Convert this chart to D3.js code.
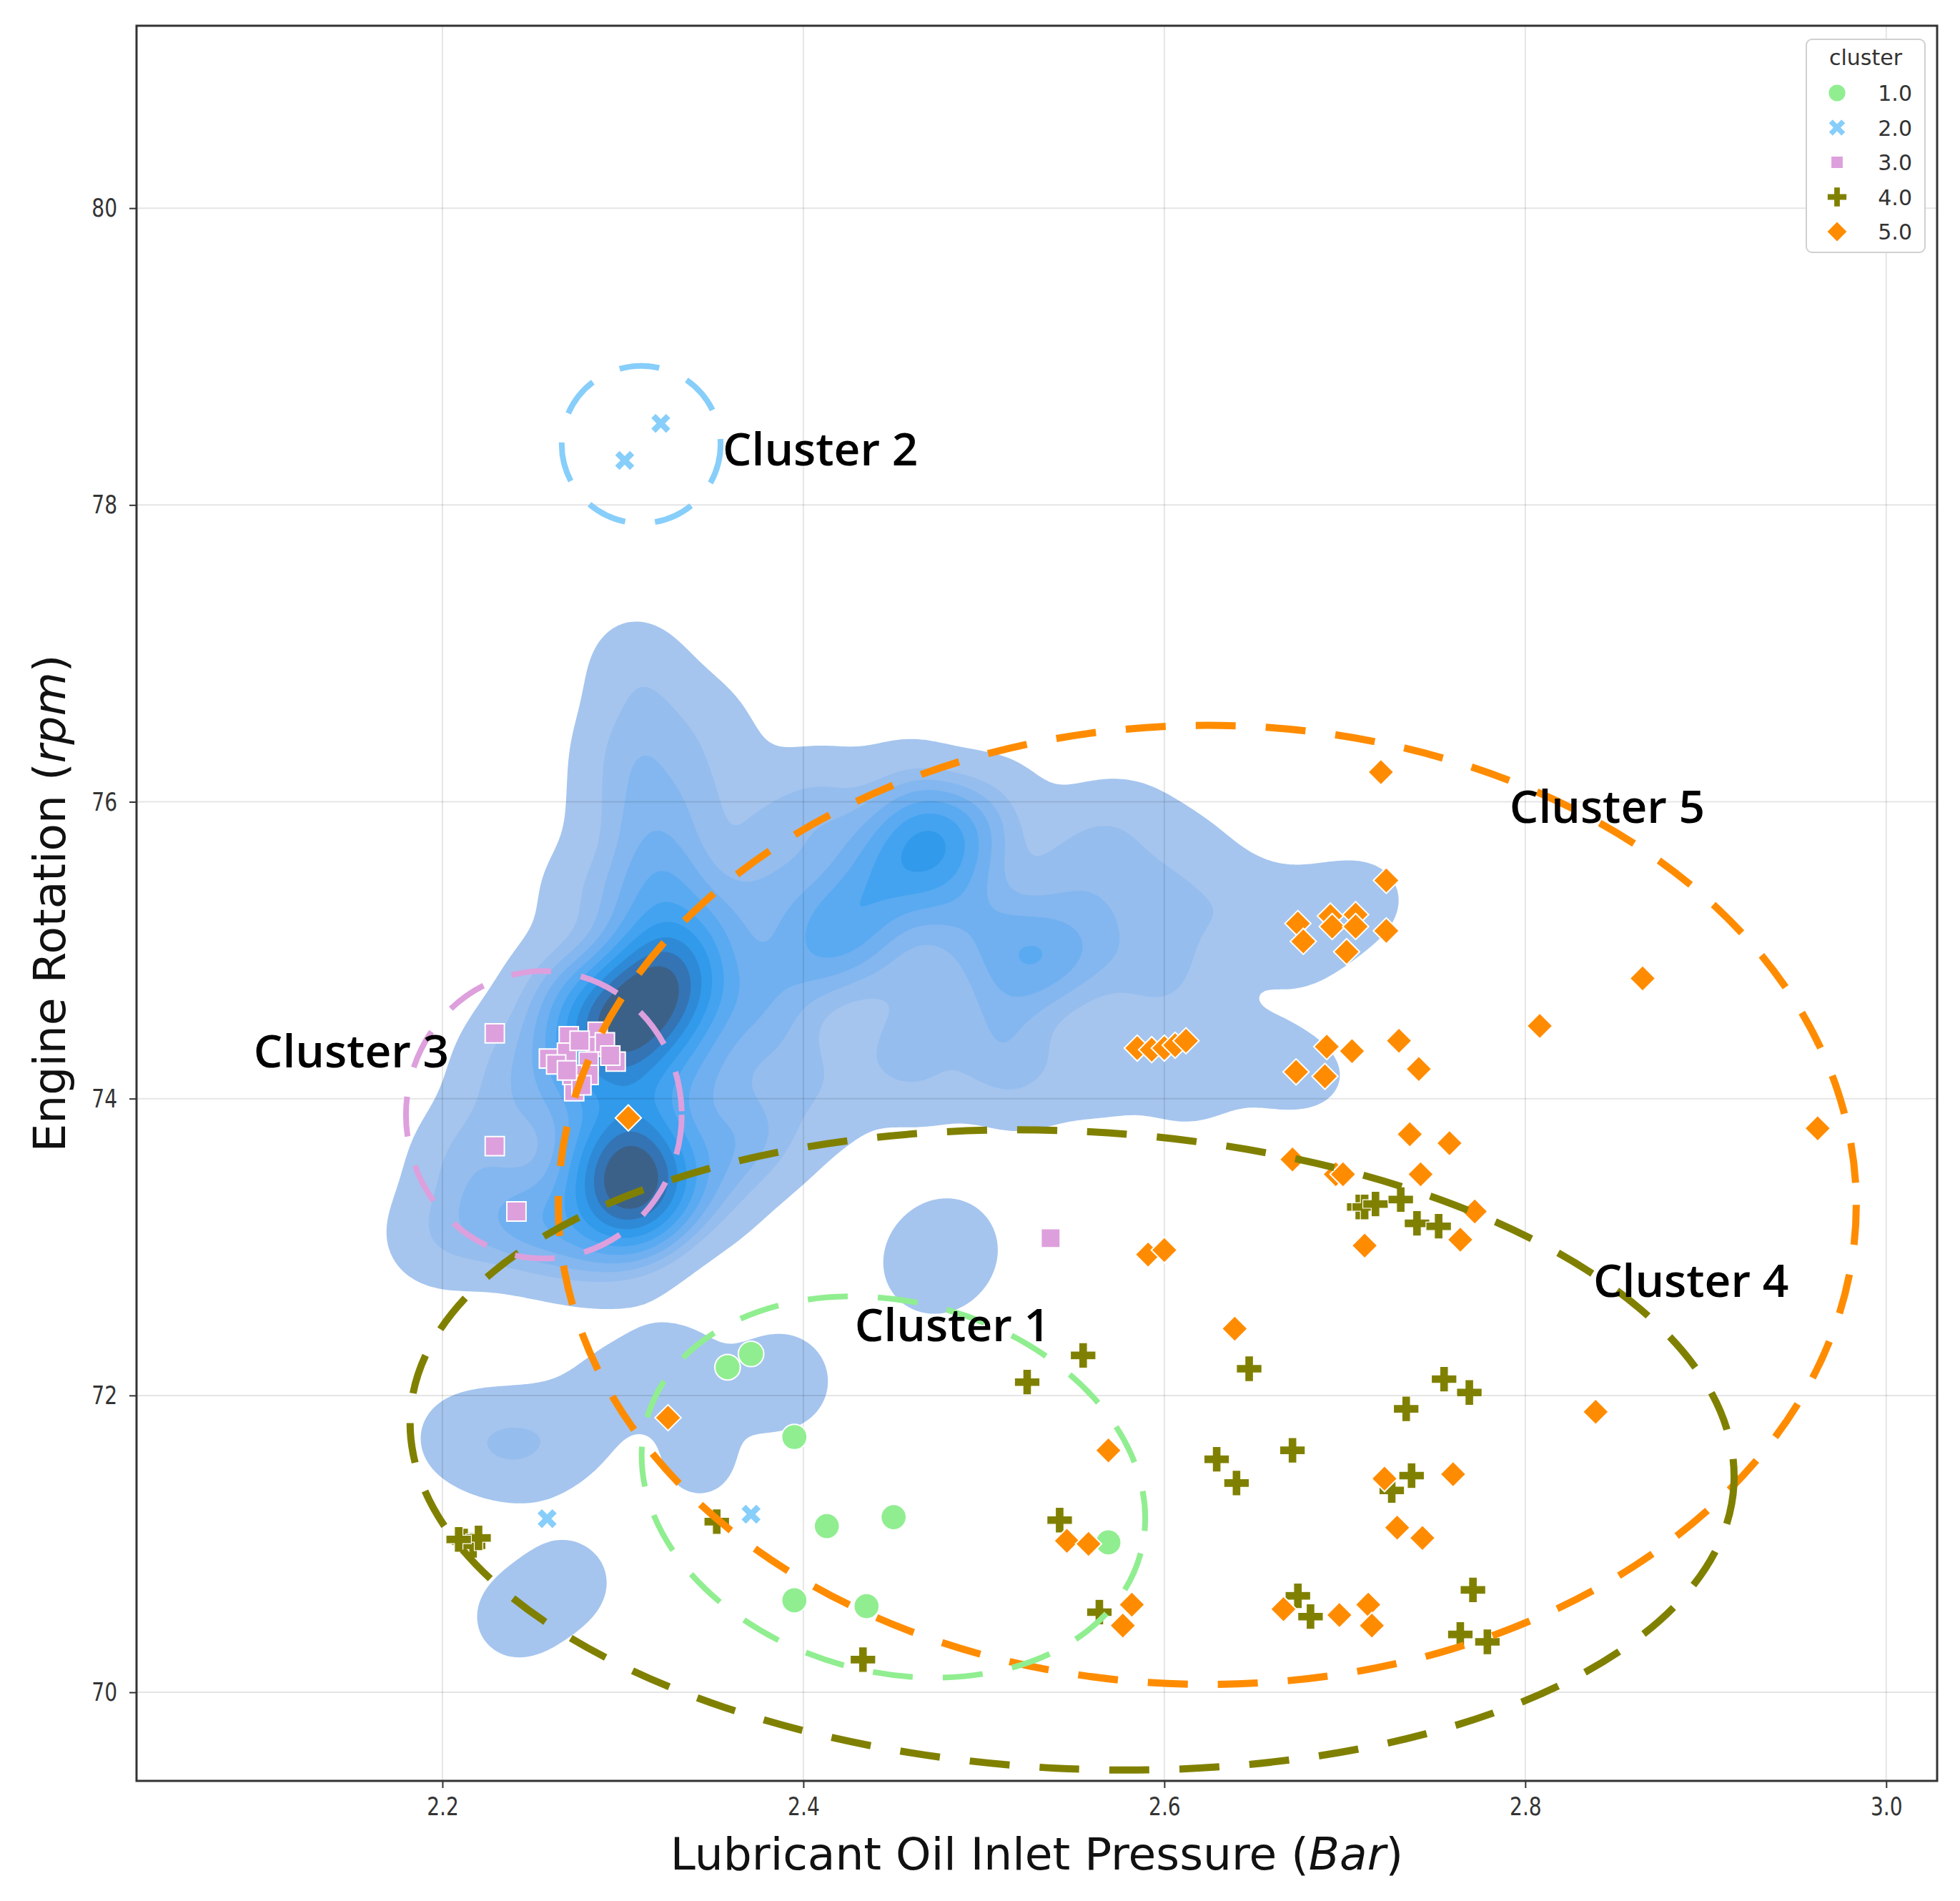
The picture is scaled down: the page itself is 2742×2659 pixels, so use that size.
<!DOCTYPE html>
<html>
<head>
<meta charset="utf-8">
<script src="https://cdn.jsdelivr.net/npm/d3@7"></script>
<style>
  body { margin: 0; background: #fff; }
  svg { display: block; }
</style>
</head>
<body>
<div id="chart"></div>
<script>
// ---- data ----
const xTicks = [2.2, 2.4, 2.6, 2.8, 3.0];
const yTicks = [70, 72, 74, 76, 78, 80];
const clusterNames = ["1.0", "2.0", "3.0", "4.0", "5.0"];

// scatter points: [oil pressure (Bar), engine rpm]
const cluster1 = [[2.358,72.19],[2.371,72.28],[2.395,71.72],[2.413,71.12],[2.450,71.18],[2.395,70.62],[2.435,70.58],[2.569,71.01]];
const cluster2 = [[2.321,78.55],[2.301,78.30],[2.258,71.17],[2.371,71.20]];
const cluster3 = [[2.229,74.44],[2.229,73.68],[2.241,73.24],[2.537,73.06],
  [2.270,74.42],[2.286,74.45],[2.285,74.35],[2.259,74.27],[2.269,74.31],[2.281,74.25],[2.296,74.25],[2.281,74.16],
  [2.273,74.05],[2.263,74.23],[2.272,74.16],[2.277,74.09],[2.290,74.38],[2.293,74.29],[2.276,74.39],[2.269,74.19]];
const cluster4 = [[2.212,71.02],[2.217,70.99],[2.220,71.04],[2.209,71.03],[2.352,71.15],[2.433,70.22],[2.524,72.09],
  [2.555,72.27],[2.542,71.16],[2.564,70.54],[2.629,71.57],[2.640,71.41],[2.647,72.18],[2.671,71.63],[2.674,70.65],
  [2.681,70.51],[2.708,73.27],[2.711,73.27],[2.717,73.29],[2.731,73.32],[2.740,73.16],[2.752,73.14],[2.755,72.11],
  [2.769,72.02],[2.734,71.91],[2.737,71.46],[2.726,71.36],[2.771,70.69],[2.764,70.39],[2.779,70.34]];
const cluster5 = [[2.720,76.20],[2.723,75.47],[2.674,75.18],[2.692,75.23],[2.706,75.24],[2.693,75.16],[2.706,75.16],
  [2.723,75.13],[2.677,75.06],[2.701,74.99],[2.585,74.34],[2.593,74.33],[2.600,74.34],[2.606,74.36],[2.612,74.39],
  [2.690,74.35],[2.704,74.32],[2.730,74.39],[2.741,74.20],[2.673,74.18],[2.689,74.15],[2.865,74.81],[2.808,74.49],
  [2.962,73.80],[2.736,73.76],[2.758,73.70],[2.671,73.59],[2.695,73.49],[2.699,73.49],[2.742,73.49],[2.772,73.24],
  [2.711,73.01],[2.764,73.05],[2.591,72.95],[2.600,72.98],[2.639,72.45],[2.303,73.87],[2.325,71.85],[2.569,71.63],
  [2.839,71.89],[2.760,71.47],[2.722,71.44],[2.729,71.11],[2.743,71.04],[2.546,71.02],[2.558,71.00],[2.582,70.59],
  [2.577,70.45],[2.666,70.56],[2.697,70.52],[2.713,70.59],[2.715,70.45]];

// samples behind the density layer: [pressure, rpm, weight]
const kdeSamples = [
  [2.2990,74.512,3.6],[2.3164,74.680,3.6],[2.3323,74.832,1.8],[2.2845,74.343,1.8],
  [2.3046,73.586,3.4],[2.3081,73.359,3.4],[2.2997,73.106,0.7],[2.2907,73.443,1.0],[2.3094,74.032,1.6],
  [2.3219,75.084,1.5],[2.3219,75.505,1.3],[2.3184,75.926,0.6],[2.3115,76.347,0.45],[2.3094,76.810,0.45],
  [2.3046,77.062,0.15],
  [2.2977,76.347,0.3],[2.2942,75.926,0.3],[2.2803,75.379,0.5],[2.3427,76.599,0.25],[2.3531,76.347,0.25],
  [2.3461,76.010,0.3],
  [2.4895,75.774,0.8],[2.4674,75.724,2.4],[2.4431,75.463,1.4],[2.4223,75.168,1.6],[2.4050,74.933,0.8],
  [2.3808,75.379,0.6],[2.3842,75.800,0.5],[2.3531,75.168,0.6],[2.3773,74.747,0.7],[2.3704,74.495,0.5],
  [2.4154,75.842,0.4],[2.4604,74.790,0.45],
  [2.5297,74.958,1.3],[2.5020,75.126,0.7],[2.5574,75.000,0.6],[2.5089,74.663,0.6],[2.4812,75.337,0.7],
  [2.5435,75.505,0.5],[2.5782,75.337,0.5],[2.5920,74.832,0.4],[2.6197,75.168,0.35],
  [2.4085,76.077,0.35],[2.4570,76.136,0.35],[2.5089,76.010,0.35],[2.5643,75.800,0.45],[2.6128,75.589,0.4],
  [2.5886,75.884,0.2],
  [2.6474,75.295,0.35],[2.6855,75.236,0.35],[2.7132,75.354,0.3],[2.6752,74.958,0.2],
  [2.3981,74.242,0.5],[2.4535,74.327,0.6],[2.5089,74.285,0.6],[2.5643,74.226,0.55],[2.6128,74.158,0.5],
  [2.6613,74.200,0.3],[2.6890,74.141,0.2],[2.6371,74.495,0.12],[2.6059,74.790,0.3],
  [2.4154,73.948,0.3],[2.4674,74.091,0.3],[2.5228,74.057,0.3],
  [2.2457,73.190,1.2],[2.2111,73.106,0.5],[2.2734,73.064,0.8],[2.1903,73.064,0.3],[2.2111,73.569,0.6],
  [2.2700,73.990,0.8],[2.2665,74.747,0.7],[2.2319,73.822,0.4],[2.2423,74.411,0.35],[2.2319,74.158,0.4],
  [2.3461,73.359,0.5],[2.3531,73.611,0.5],[2.3635,73.822,0.6],[2.3427,74.242,0.8],[2.3842,73.695,0.35],
  [2.4826,73.022,0.4],[2.4694,72.854,0.4],
  [2.2700,70.749,0.4],[2.2402,70.497,0.4],
  [2.2388,71.658,0.6],[2.2076,71.717,0.35],[2.2700,71.717,0.35],
  [2.3288,72.180,0.45],[2.3877,72.096,0.55],[2.3427,71.549,0.35],[2.2907,72.096,0.25]
];
const kdeLevels = [0.25, 0.75, 1.1, 1.5, 2.0, 2.6, 3.3, 4.1, 5.0, 6.0];
const kdeColors = ["#a5c5ee","#95bdee","#84b7ef","#70b0f0","#5aaaf1","#43a3f0","#319aea","#2e8ad6","#3474b4","#3c6189"];

// hand-drawn cluster outlines: centre pressure, centre rpm, radius (pressure), radius (rpm), tilt deg
const outlineNames = ["Cluster 5", "Cluster 4", "Cluster 1", "Cluster 3", "Cluster 2"];
const outlineCx = [2.6238, 2.5489, 2.4499, 2.2562, 2.3101];
const outlineCy = [73.284, 71.633, 71.383, 73.891, 78.407];
const outlineRx = [0.3596, 0.3672, 0.1418, 0.0764, 0.0440];
const outlineRy = [3.231, 2.147, 1.247, 0.968, 0.530];
const outlineTilt = [0, 3, 15, 0, 0];

// label anchors (left / baseline) in data units
const labelText = ["Cluster 2", "Cluster 5", "Cluster 3", "Cluster 1", "Cluster 4"];
const labelX = [2.3553, 2.7913, 2.0954, 2.4285, 2.8377];
const labelY = [78.268, 75.860, 74.209, 72.365, 72.663];

// ---- layout ----
const W = 2742, H = 2659;
const margin = {top: 36, right: 32, bottom: 168, left: 191};
const width = W - margin.left - margin.right;
const height = H - margin.top - margin.bottom;

const colors = ["#90ee90", "#87cefa", "#dda0dd", "#808000", "#ff8c00"];
const outlineColors = ["#ff8c00", "#808000", "#90ee90", "#dda0dd", "#87cefa"];
const outlineWidths = [10, 10, 8, 8, 8];

const svg = d3.select("#chart").append("svg")
    .attr("width", W)
    .attr("height", H);

const g = svg.append("g")
    .attr("transform", `translate(${margin.left},${margin.top})`);

const x = d3.scaleLinear().domain([2.0305, 3.0282]).range([0, width]);
const y = d3.scaleLinear().domain([69.403, 81.229]).range([height, 0]);

g.append("clipPath").attr("id", "plot-clip")
    .append("rect").attr("width", width).attr("height", height);

// ---- density layer ----
const cell = 4;
const nx = Math.ceil(width / cell), ny = Math.ceil(height / cell);
const bw = 52;
const grid = new Float64Array(nx * ny);
const reach = 4 * bw;
kdeSamples.forEach(d => {
    let px = x(d[0]), py = y(d[1]), w = d[2];
    let i0 = Math.max(0, Math.floor((px - reach) / cell)), i1 = Math.min(nx - 1, Math.ceil((px + reach) / cell));
    let j0 = Math.max(0, Math.floor((py - reach) / cell)), j1 = Math.min(ny - 1, Math.ceil((py + reach) / cell));
    for (let j = j0; j <= j1; j++) {
        let dy = (j + 0.5) * cell - py;
        for (let i = i0; i <= i1; i++) {
            let dx = (i + 0.5) * cell - px;
            grid[j * nx + i] += w * Math.exp(-(dx * dx + dy * dy) / (2 * bw * bw));
        }
    }
});

const bands = d3.contours().size([nx, ny]).thresholds(kdeLevels)(grid);
const contourPath = d3.geoPath(d3.geoIdentity().scale(cell));

g.append("g")
    .attr("class", "kde")
    .attr("clip-path", "url(#plot-clip)")
    .selectAll("path")
    .data(bands)
    .enter()
    .append("path")
    .attr("d", contourPath)
    .attr("fill", (d, i) => kdeColors[i]);

// ---- grid ----
g.append("g").selectAll("line").data(xTicks).enter().append("line")
    .attr("x1", d => x(d)).attr("x2", d => x(d))
    .attr("y1", 0).attr("y2", height)
    .attr("stroke", "rgba(0,0,0,0.1)").attr("stroke-width", 2);
g.append("g").selectAll("line").data(yTicks).enter().append("line")
    .attr("y1", d => y(d)).attr("y2", d => y(d))
    .attr("x1", 0).attr("x2", width)
    .attr("stroke", "rgba(0,0,0,0.1)").attr("stroke-width", 2);

// ---- axes ----
const xAxis = d3.axisBottom(x).tickValues(xTicks).tickFormat(d3.format(".1f")).tickSize(10).tickPadding(12);
const yAxis = d3.axisLeft(y).tickValues(yTicks).tickFormat(d3.format("d")).tickSize(10).tickPadding(12);

const gx = g.append("g").attr("transform", `translate(0,${height})`).call(xAxis);
const gy = g.append("g").call(yAxis);

[gx, gy].forEach(a => {
    a.select(".domain").remove();
    a.selectAll(".tick line").attr("stroke", "#333").attr("stroke-width", 2);
    a.selectAll(".tick text")
        .attr("fill", "#333")
        .style("font-family", "DejaVu Sans")
        .style("font-size", "36px");
});
gx.selectAll(".tick text").attr("transform", "scale(0.78,1)").attr("y", 22);
gy.selectAll(".tick text").attr("x", -27 / 0.78).attr("transform", "scale(0.78,1)");

g.append("rect")
    .attr("width", width).attr("height", height)
    .attr("fill", "none").attr("stroke", "#333").attr("stroke-width", 3);

// axis titles
const xTitle = svg.append("text")
    .attr("x", margin.left + width / 2).attr("y", 2615)
    .attr("text-anchor", "middle")
    .style("font-family", "DejaVu Sans").style("font-size", "63px").attr("fill", "#111");
xTitle.append("tspan").text("Lubricant Oil Inlet Pressure (");
xTitle.append("tspan").style("font-style", "italic").text("Bar");
xTitle.append("tspan").text(")");

const yTitle = svg.append("text")
    .attr("transform", `translate(91,${margin.top + height / 2}) rotate(-90)`)
    .attr("text-anchor", "middle")
    .style("font-family", "DejaVu Sans").style("font-size", "63px").attr("fill", "#111");
yTitle.append("tspan").text("Engine Rotation (");
yTitle.append("tspan").style("font-style", "italic").text("rpm");
yTitle.append("tspan").text(")");

// ---- scatter ----
const markers = [
    {type: d3.symbolCircle, size: 1000, rot: 0, legendSize: 480},
    {type: d3.symbolCross, size: 540, rot: 45, legendSize: 380},
    {type: d3.symbolSquare, size: 720, rot: 0, legendSize: 300},
    {type: d3.symbolCross, size: 700, rot: 0, legendSize: 430},
    {type: d3.symbolSquare, size: 660, rot: 45, legendSize: 420}
];
const clusters = [cluster1, cluster2, cluster3, cluster4, cluster5];

const pts = g.append("g").attr("clip-path", "url(#plot-clip)");
clusters.forEach((pts_, ci) => {
    pts.append("g").selectAll("path")
        .data(pts_)
        .enter()
        .append("path")
        .attr("d", d3.symbol().type(markers[ci].type).size(markers[ci].size))
        .attr("transform", d => `translate(${x(d[0])},${y(d[1])}) rotate(${markers[ci].rot})`)
        .attr("fill", colors[ci])
        .attr("stroke", "#fff")
        .attr("stroke-width", ci === 3 ? 1.2 : 2);
});

// ---- cluster outlines ----
const kx = x(1) - x(0), ky = y(0) - y(1);
g.append("g").selectAll("ellipse")
    .data(outlineNames)
    .enter()
    .append("ellipse")
    .attr("cx", 0).attr("cy", 0)
    .attr("rx", (d, i) => outlineRx[i] * kx)
    .attr("ry", (d, i) => outlineRy[i] * ky)
    .attr("transform", (d, i) => `translate(${x(outlineCx[i])},${y(outlineCy[i])}) rotate(${outlineTilt[i]})`)
    .attr("fill", "none")
    .attr("stroke", (d, i) => outlineColors[i])
    .attr("stroke-width", (d, i) => outlineWidths[i])
    .attr("stroke-dasharray", "56 42");

g.append("g").selectAll("text")
    .data(labelText)
    .enter()
    .append("text")
    .attr("x", (d, i) => x(labelX[i]))
    .attr("y", (d, i) => y(labelY[i]))
    .style("font-family", "Open Sans").style("font-size", "64px").style("font-weight", 600)
    .attr("fill", "#000")
    .text(d => d);

// ---- legend ----
const lg = svg.append("g").attr("transform", "translate(2527,55)");
lg.append("rect")
    .attr("width", 166).attr("height", 298).attr("rx", 8)
    .attr("fill", "#fff").attr("stroke", "#d0d0d0").attr("stroke-width", 2);
lg.append("text")
    .attr("x", 83).attr("y", 36).attr("text-anchor", "middle")
    .style("font-family", "DejaVu Sans").style("font-size", "30px").attr("fill", "#333")
    .text("cluster");
const rows = lg.selectAll(".row").data(clusterNames).enter().append("g")
    .attr("class", "row")
    .attr("transform", (d, i) => `translate(0,${75 + i * 48.5})`);
rows.append("path")
    .attr("d", (d, i) => d3.symbol().type(markers[i].type).size(markers[i].legendSize)())
    .attr("transform", (d, i) => `translate(43,0) rotate(${markers[i].rot})`)
    .attr("fill", (d, i) => colors[i])
    .attr("stroke", "#fff").attr("stroke-width", 1.5);
rows.append("text")
    .attr("x", 148).attr("y", 11).attr("text-anchor", "end")
    .style("font-family", "DejaVu Sans").style("font-size", "30px").attr("fill", "#333")
    .text(d => d);
</script>
</body>
</html>
